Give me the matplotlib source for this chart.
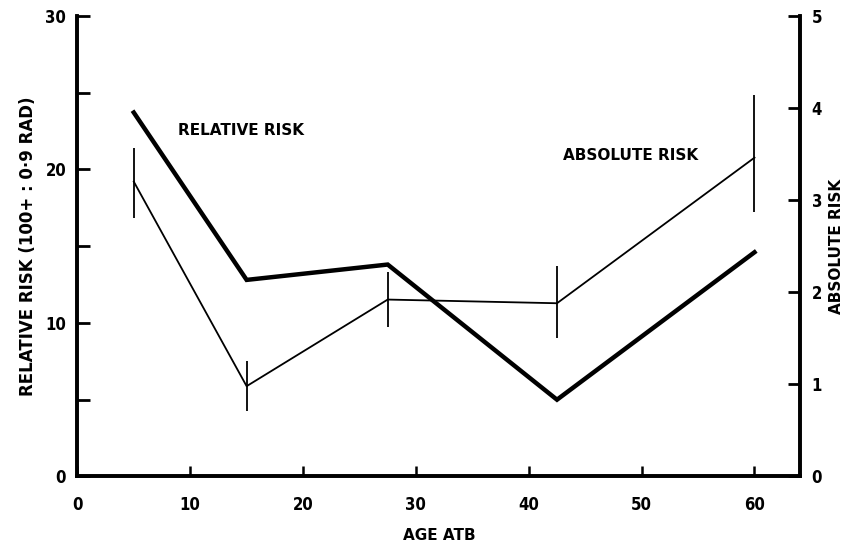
import matplotlib
matplotlib.use("Agg")
import matplotlib.pyplot as plt
from matplotlib.ticker import MultipleLocator

ages = [5, 15, 27.5, 42.5, 60]
relative_risk = [23.7, 12.8, 13.8, 5.0, 14.6]
absolute_risk = [3.2, 0.98, 1.92, 1.88, 3.46]
abs_low = [2.81, 0.71, 1.62, 1.50, 2.87]
abs_high = [3.56, 1.25, 2.22, 2.28, 4.14]

x_ticks = [0, 10, 20, 30, 40, 50, 60]
left_ticks = [0, 10, 20, 30]
right_ticks = [0, 1, 2, 3, 4, 5]

plt.rcParams['font.family'] = ['DejaVu Sans']
plt.rcParams['font.weight'] = 'bold'

fig = plt.figure(figsize=(8.48, 5.43), dpi=100)
ax = fig.add_axes([0.0912, 0.1225, 0.8527, 0.8485])
ax2 = ax.twinx()

ax.plot(ages, relative_risk, color='black', lw=3.2, solid_joinstyle='miter', zorder=3)
yerr = [[a - l for a, l in zip(absolute_risk, abs_low)],
        [h - a for a, h in zip(absolute_risk, abs_high)]]
ax2.errorbar(ages, absolute_risk, yerr=yerr, color='black', lw=1.3,
             elinewidth=1.3, capsize=0)

ax.set_xlim(0, 64.07)
ax.set_ylim(0, 30)
ax2.set_ylim(0, 5)

ax.set_xticks(x_ticks)
ax.set_yticks(left_ticks)
ax.yaxis.set_minor_locator(MultipleLocator(5))
ax2.set_yticks(right_ticks)

for a in (ax, ax2):
    a.spines['top'].set_visible(False)
    for s in a.spines.values():
        s.set_linewidth(2.6)

ax.tick_params(axis='x', direction='in', length=7, width=1.8, pad=14, labelsize=12)
ax.tick_params(axis='y', which='major', direction='in', length=9, width=2, pad=8, labelsize=12)
ax.tick_params(axis='y', which='minor', direction='in', length=9, width=2)
ax2.tick_params(axis='y', direction='in', length=9, width=2, pad=8, labelsize=12)

for lab in ax.get_xticklabels() + ax.get_yticklabels() + ax2.get_yticklabels():
    lab.set_fontweight('bold')
    lab.set_fontstretch('condensed')

ax.set_xlabel('AGE ATB', fontsize=11, fontweight='bold', labelpad=10)
ax.set_ylabel('RELATIVE RISK (100+ : 0·9 RAD)', fontsize=12, fontweight='bold', labelpad=6)
ax2.set_ylabel('ABSOLUTE RISK', fontsize=11, fontweight='bold', labelpad=5)

ax.text(8.9, 22.56, 'RELATIVE RISK', fontsize=11, fontweight='bold', va='center', ha='left')
ax.text(43.0, 20.9, 'ABSOLUTE RISK', fontsize=11, fontweight='bold', va='center', ha='left')

fig.savefig('out.png', dpi=100)
